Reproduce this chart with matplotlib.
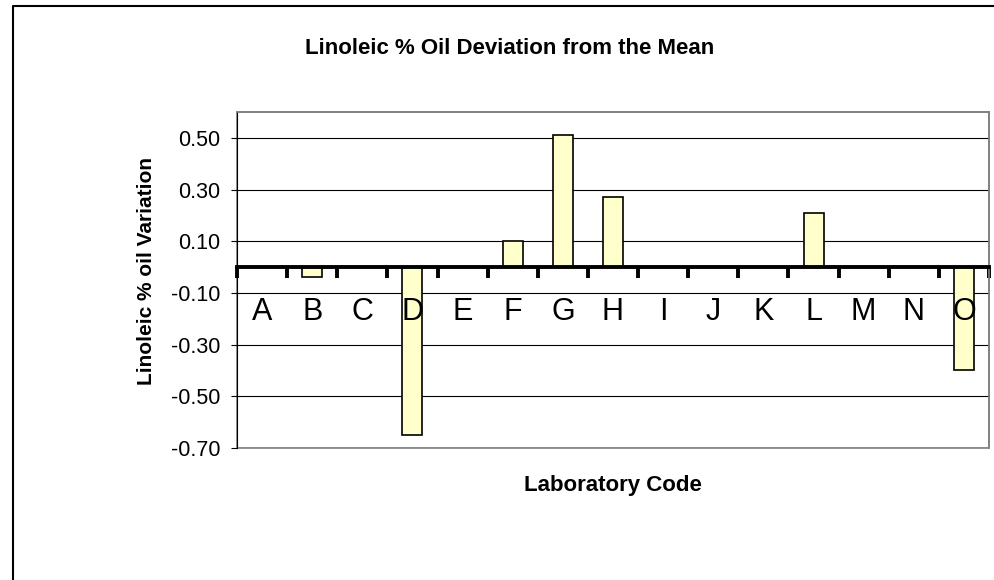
import numpy as np
import matplotlib
matplotlib.use("Agg")
import matplotlib.pyplot as plt
from matplotlib.lines import Line2D
from matplotlib.patches import Rectangle

plt.rcParams["font.family"] = ["Liberation Sans", "DejaVu Sans"]

labs = ["A", "B", "C", "D", "E", "F", "G", "H", "I", "J", "K", "L", "M", "N", "O"]
deviation = [0.0, -0.04, 0.0, -0.65, 0.0, 0.10, 0.51, 0.27, 0.0, 0.0, 0.0, 0.21, 0.0, 0.0, -0.40]
y_ticks = [0.5, 0.3, 0.1, -0.1, -0.3, -0.5, -0.7]

W, H = 995, 580
fig = plt.figure(figsize=(W / 100, H / 100), dpi=100)
ax = fig.add_axes([237 / W, 1 - 448 / H, (989 - 237) / W, (448 - 112) / H])

x = np.arange(len(labs)) + 0.5
ax.bar(x, deviation, width=0.4, color="#FFFFCC", edgecolor="black", linewidth=1.2, zorder=3)

ax.set_xlim(0, len(labs))
ax.set_ylim(-0.7, 0.6)

# grid lines
for yv in y_ticks:
    ax.axhline(yv, color="black", linewidth=0.8, zorder=1)

ax.set_yticks(y_ticks)
ax.set_yticklabels([f"{v:.2f}" for v in y_ticks], fontsize=15.5)
ax.tick_params(axis="y", direction="out", length=4.5, width=0.8, pad=7.5)

# category axis crossing at zero
ax.spines["bottom"].set_position(("data", 0))
ax.spines["bottom"].set_linewidth(2.8)
ax.spines["bottom"].set_zorder(4)
ax.set_xticks(np.arange(len(labs) + 1))
ax.set_xticklabels([])
ax.tick_params(axis="x", direction="out", length=8, width=2.8)

for xi, lab in zip(x, labs):
    ax.text(xi, -0.175, lab, fontsize=22, ha="center", va="center", zorder=5)

ax.spines["left"].set_linewidth(0.8)
ax.spines["top"].set_color("#808080")
ax.spines["right"].set_color("#808080")
ax.spines["top"].set_linewidth(1.2)
ax.spines["right"].set_linewidth(1.2)
ax.add_patch(Rectangle((0, 0), 1, 1, transform=ax.transAxes, fill=False,
                       edgecolor="#808080", linewidth=1.2, clip_on=False, zorder=0))

fig.text(510 / W, 1 - 49 / H, "Linoleic % Oil Deviation from the Mean",
         fontsize=16, fontweight="bold", ha="center", va="center")
fig.text(613 / W, 1 - 486 / H, "Laboratory Code",
         fontsize=16, fontweight="bold", ha="center", va="center")
fig.text(147 / W, 1 - 271 / H, "Linoleic % oil Variation",
         fontsize=15, fontweight="bold", ha="center", va="center", rotation=90)

# outer chart border (only left and top edges are inside the picture)
fig.add_artist(Line2D([13 / W, 13 / W, 1.0], [0.0, 1 - 6 / H, 1 - 6 / H],
                      transform=fig.transFigure, color="black", linewidth=1.5))

fig.savefig("out.png", dpi=100)
